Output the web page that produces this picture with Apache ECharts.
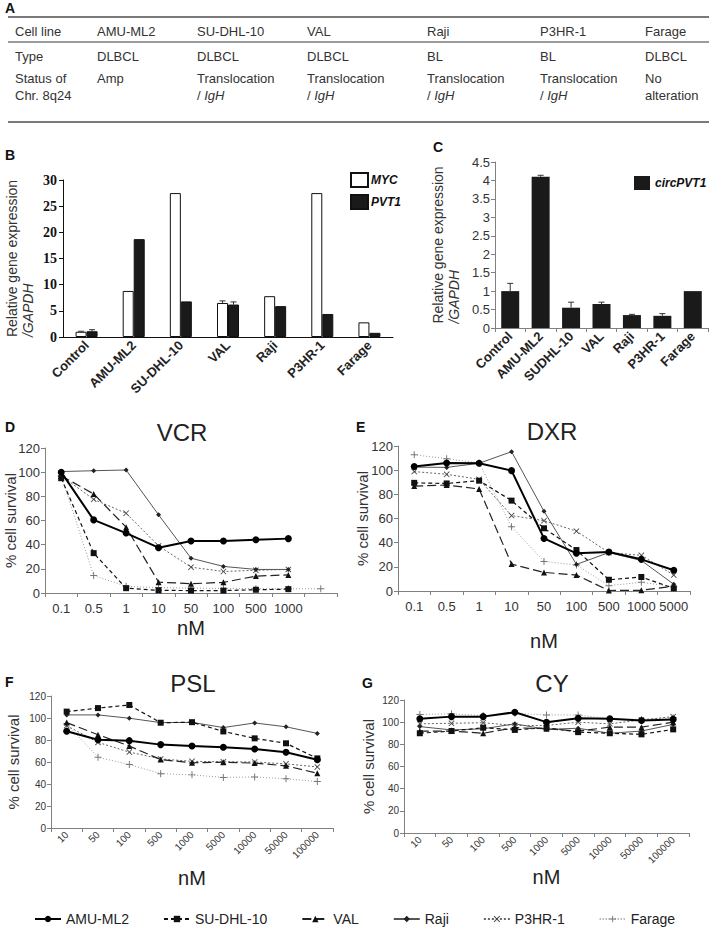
<!DOCTYPE html>
<html>
<head>
<meta charset="utf-8">
<script src="https://cdn.jsdelivr.net/npm/echarts@6/dist/echarts.min.js"></script>
<style>
  html, body { margin: 0; padding: 0; background: #fff; }
  #fig { width: 709px; height: 929px; }
</style>
</head>
<body>
<div id="fig"></div>
<script>
// ---- panel A: cell line table ----
var tableHead = ['Cell line', 'AMU-ML2', 'SU-DHL-10', 'VAL', 'Raji', 'P3HR-1', 'Farage'];
var tableType = ['Type', 'DLBCL', 'DLBCL', 'DLBCL', 'BL', 'BL', 'DLBCL'];
var tableStatus1 = ['Status of', 'Amp', 'Translocation', 'Translocation', 'Translocation', 'Translocation', 'No'];
var tableStatus2 = ['Chr. 8q24', '', '/ IgH', '/ IgH', '/ IgH', '/ IgH', 'alteration'];

// ---- panel B: MYC / PVT1 expression ----
var exprCats = ['Control', 'AMU-ML2', 'SU-DHL-10', 'VAL', 'Raji', 'P3HR-1', 'Farage'];
var mycExpr = [1.0, 8.8, 27.5, 6.5, 7.8, 27.5, 2.8];
var mycErr = [0.1, 0, 0, 0.4, 0, 0, 0];
var pvt1Expr = [1.1, 18.7, 6.8, 6.2, 5.9, 4.4, 0.8];
var pvt1Err = [0.3, 0, 0, 0.5, 0, 0, 0];

// ---- panel C: circPVT1 expression ----
var circCats = ['Control', 'AMU-ML2', 'SUDHL-10', 'VAL', 'Raji', 'P3HR-1', 'Farage'];
var circExpr = [1.0, 4.1, 0.55, 0.65, 0.35, 0.33, 1.0];
var circErr = [0.21, 0.04, 0.15, 0.05, 0.02, 0.06, 0];

// ---- panels D-G: % cell survival ----
var lineNames = ['AMU-ML2', 'SU-DHL-10', 'VAL', 'Raji', 'P3HR-1', 'Farage'];

var vcrDoses = ['0.1', '0.5', '1', '10', '50', '100', '500', '1000', ''];
var vcrAmu    = [100, 60.5, 49.6, 37.5, 43, 43, 44, 45];
var vcrSudhl  = [95, 33, 4, 2.2, 2, 2, 2.7, 3.2];
var vcrVal    = [97, 82, 54.5, 9, 7.7, 8.8, 14, 15];
var vcrRaji   = [100.5, 101.2, 101.8, 64.7, 28.8, 22, 19.5, 19.5];
var vcrP3hr   = [97, 77.5, 66, 39, 21.4, 17.8, 18.8, 19.5];
var vcrFarage = [97, 14.5, 5.5, 4.5, 4, 3.8, 3.6, 3.5, 3.5];

var dxrDoses = ['0.1', '0.5', '1', '10', '50', '100', '500', '1000', '5000'];
var dxrAmu    = [103, 106, 105.7, 99.6, 43.5, 31.2, 32.2, 26.2, 17.2];
var dxrSudhl  = [89.5, 89, 91.3, 74.8, 51.9, 33.9, 9.3, 11.6, 2.2];
var dxrVal    = [86.8, 87.7, 84.4, 22.3, 15.4, 13.2, 0.4, 0.6, 4];
var dxrRaji   = [102.5, 102.3, 105.7, 115.3, 66, 22, 31.8, 25.2, 5.6];
var dxrP3hr   = [98.8, 96.6, 92.4, 62.4, 58.2, 49.5, 31.8, 29.5, 13.2];
var dxrFarage = [112.7, 109.5, 106, 53.2, 24.5, 21.5, 4.4, 7.2, 3.6];

var pslDoses = ['10', '50', '100', '500', '1000', '5000', '10000', '50000', '100000'];
var pslAmu    = [88, 80.2, 79.4, 75.8, 74.5, 73.4, 71.8, 68.8, 62];
var pslSudhl  = [105.8, 109, 111.8, 95.7, 96.2, 87.8, 81.5, 77, 63.3];
var pslVal    = [95.8, 84.8, 74.5, 62.2, 59.3, 59.8, 59, 56.5, 49.8];
var pslRaji   = [102.8, 102.8, 99.8, 95.8, 96, 91.3, 95.5, 92, 86];
var pslP3hr   = [93, 77.8, 69, 62.8, 60.6, 60.2, 60, 58.3, 55.5];
var pslFarage = [94.6, 64.3, 57.7, 49.4, 48.3, 46, 46.4, 44.8, 42.2];

var cyDoses = ['10', '50', '100', '500', '1000', '5000', '10000', '50000', '100000'];
var cyAmu    = [103, 105, 105, 109, 100, 103.5, 103, 101.5, 102.5];
var cySudhl  = [90, 92, 95, 93, 95, 91, 90, 89, 93.5];
var cyVal    = [92, 92, 90, 95, 94, 92, 95.5, 95.5, 100];
var cyRaji   = [96, 93, 94, 98.5, 93.5, 94.5, 90, 92, 98];
var cyP3hr   = [98.5, 99, 99.5, 97, 97, 100, 98.5, 102, 105];
var cyFarage = [107, 107.5, 106, 108, 106.5, 106.5, 103, 102.5, 104];

// ---------------------------------------------------------------------
var FONT = 'Liberation Sans';
var chart = echarts.init(document.getElementById('fig'), null, { renderer: 'svg' });

// line look per cell line
var lineLooks = {
  'AMU-ML2':   { symbol: 'circle', size: 7, line: { color: '#000', width: 2 }, color: '#000', z: 8 },
  'SU-DHL-10': { symbol: 'rect', size: 6, line: { color: '#111', width: 1.2, type: [4, 3] }, color: '#111', z: 6 },
  'VAL':       { symbol: 'triangle', size: 6, line: { color: '#222', width: 1.2, type: [9, 4] }, color: '#111', z: 6 },
  'Raji':      { symbol: 'diamond', size: 5, line: { color: '#555', width: 1 }, color: '#222', z: 5 },
  'P3HR-1':    { symbol: 'path://M1,0L5,4L9,0L10,1L6,5L10,9L9,10L5,6L1,10L0,9L4,5L0,1Z', size: 6,
                 line: { color: '#666', width: 1, type: [2, 2] }, color: '#444', z: 4 },
  'Farage':    { symbol: 'path://M4.3,0H5.7V4.3H10V5.7H5.7V10H4.3V5.7H0V4.3H4.3Z', size: 7,
                 line: { color: '#9a9a9a', width: 1, type: [1, 2] }, color: '#777', z: 3 }
};

function lineSeries(name, data, idx) {
  var look = lineLooks[name];
  return {
    name: name, type: 'line', xAxisIndex: idx, yAxisIndex: idx, data: data,
    symbol: look.symbol, symbolSize: look.size, showSymbol: true,
    lineStyle: look.line, itemStyle: { color: look.color }, z: look.z,
    emphasis: { disabled: true }
  };
}

function errorSeries(idx, vals, errs, offset) {
  return {
    type: 'custom', xAxisIndex: idx, yAxisIndex: idx, silent: true, z: 5,
    data: vals.map(function (v, i) { return [i, v, v + errs[i]]; }),
    renderItem: function (params, api) {
      if (api.value(2) <= api.value(1)) return null;
      var base = api.coord([api.value(0), api.value(1)]);
      var top = api.coord([api.value(0), api.value(2)]);
      var x = base[0] + offset;
      return {
        type: 'group',
        children: [
          { type: 'line', shape: { x1: x, y1: base[1], x2: x, y2: top[1] }, style: { stroke: '#333', lineWidth: 1 } },
          { type: 'line', shape: { x1: x - 3, y1: top[1], x2: x + 3, y2: top[1] }, style: { stroke: '#333', lineWidth: 1 } }
        ]
      };
    }
  };
}

// grids: 0 B, 1 C, 2 D, 3 E, 4 F, 5 G
var grids = [
  { left: 63, top: 180, width: 330, height: 157 },
  { left: 495, top: 162, width: 213, height: 166 },
  { left: 45, top: 448, width: 292, height: 145 },
  { left: 398, top: 446, width: 292, height: 145 },
  { left: 51, top: 696, width: 282, height: 132 },
  { left: 404, top: 700, width: 285, height: 133 }
].map(function (g) { g.containLabel = false; g.outerBoundsMode = 'none'; return g; });

var greyAxis = { lineStyle: { color: '#808080', width: 1 } };

function survivalX(idx, doses, rotate, fontSize, nameGap) {
  return {
    type: 'category', gridIndex: idx, data: doses,
    axisLine: greyAxis, axisTick: { show: true, length: 4, lineStyle: { color: '#808080' } },
    axisLabel: { interval: 0, rotate: rotate, color: '#333', fontSize: fontSize, fontFamily: FONT, margin: rotate ? 5 : 9 },
    splitLine: { show: false },
    name: 'nM', nameLocation: 'middle', nameGap: nameGap, nameMoveOverlap: false,
    nameTextStyle: { fontSize: 20, color: '#222', fontFamily: FONT }
  };
}
function survivalY(idx, fontSize, nameGap) {
  return {
    type: 'value', gridIndex: idx, min: 0, max: 120, interval: 20,
    axisLine: { show: true, lineStyle: { color: '#808080' } },
    axisTick: { show: true, length: 4, lineStyle: { color: '#808080' } },
    axisLabel: { color: '#333', fontSize: fontSize, fontFamily: FONT, margin: 5 },
    splitLine: { show: false },
    name: '% cell survival', nameLocation: 'middle', nameGap: nameGap, nameMoveOverlap: false,
    nameTextStyle: { fontSize: 15, color: '#333', fontFamily: FONT }
  };
}

var exprName = '{t|Relative gene expression}\n{g|/GAPDH}';
var exprRich = {
  t: { fontSize: 14, color: '#333', fontFamily: FONT, lineHeight: 16, align: 'left' },
  g: { fontSize: 14, color: '#333', fontFamily: FONT, fontStyle: 'italic', lineHeight: 16, align: 'left' }
};

var xAxes = [
  {
    type: 'category', gridIndex: 0, data: exprCats,
    axisLine: { lineStyle: { color: '#111' } }, axisTick: { show: false },
    axisLabel: { interval: 0, rotate: 45, fontWeight: 'bold', fontSize: 13, color: '#222', fontFamily: FONT, margin: 6 }
  },
  {
    type: 'category', gridIndex: 1, data: circCats,
    axisLine: greyAxis, axisTick: { show: true, length: 4, lineStyle: { color: '#808080' } },
    axisLabel: { interval: 0, rotate: 45, fontWeight: 'bold', fontSize: 13, color: '#222', fontFamily: FONT, margin: 6 }
  },
  survivalX(2, vcrDoses, 0, 13, 25),
  survivalX(3, dxrDoses, 0, 13, 40),
  survivalX(4, pslDoses, 45, 10, 40),
  survivalX(5, cyDoses, 45, 10, 34)
];

var yAxes = [
  {
    type: 'value', gridIndex: 0, min: 0, max: 30, interval: 5,
    axisLine: { show: true, lineStyle: { color: '#111' } },
    axisTick: { show: true, length: 4, lineStyle: { color: '#111' } },
    axisLabel: { fontFamily: 'Liberation Serif', fontWeight: 'bold', fontSize: 14, color: '#111', margin: 6 },
    splitLine: { show: false },
    name: exprName, nameLocation: 'middle', nameGap: 27, nameMoveOverlap: false, nameTextStyle: { rich: exprRich }
  },
  {
    type: 'value', gridIndex: 1, min: 0, max: 4.5, interval: 0.5,
    axisLine: { show: true, lineStyle: { color: '#808080' } },
    axisTick: { show: true, length: 4, lineStyle: { color: '#808080' } },
    axisLabel: { fontFamily: FONT, fontSize: 13, color: '#333', margin: 5 },
    splitLine: { show: false },
    name: exprName, nameLocation: 'middle', nameGap: 33, nameMoveOverlap: false, nameTextStyle: { rich: exprRich }
  },
  survivalY(2, 13, 27),
  survivalY(3, 13, 28),
  survivalY(4, 10, 30),
  survivalY(5, 10, 28)
];

var series = [
  { name: 'MYC', type: 'bar', xAxisIndex: 0, yAxisIndex: 0, data: mycExpr, barWidth: 11, barGap: '0%',
    itemStyle: { color: '#fff', borderColor: '#111', borderWidth: 1 } },
  { name: 'PVT1', type: 'bar', xAxisIndex: 0, yAxisIndex: 0, data: pvt1Expr, barWidth: 11, barGap: '0%',
    itemStyle: { color: '#1a1a1a', borderColor: '#111', borderWidth: 1 } },
  errorSeries(0, mycExpr, mycErr, -5.5),
  errorSeries(0, pvt1Expr, pvt1Err, 5.5),
  { name: 'circPVT1', type: 'bar', xAxisIndex: 1, yAxisIndex: 1, data: circExpr, barWidth: 18,
    itemStyle: { color: '#1a1a1a' } },
  errorSeries(1, circExpr, circErr, 0)
];

var panels = [
  [vcrAmu, vcrSudhl, vcrVal, vcrRaji, vcrP3hr, vcrFarage],
  [dxrAmu, dxrSudhl, dxrVal, dxrRaji, dxrP3hr, dxrFarage],
  [pslAmu, pslSudhl, pslVal, pslRaji, pslP3hr, pslFarage],
  [cyAmu, cySudhl, cyVal, cyRaji, cyP3hr, cyFarage]
];
panels.forEach(function (sets, p) {
  sets.forEach(function (data, k) {
    series.push(lineSeries(lineNames[k], data, p + 2));
  });
});

// ---- graphic: table, panel letters, panel titles ----
var graphics = [];
function addText(x, y, text, style) {
  graphics.push({
    type: 'text', x: x, y: y, silent: true,
    style: echarts.util.extend({ text: text, fill: '#333', font: '13px "' + FONT + '"', align: 'left', verticalAlign: 'middle' }, style || {})
  });
}
function addRule(y, w) {
  graphics.push({ type: 'line', silent: true, shape: { x1: 8, y1: y, x2: 709, y2: y }, style: { stroke: '#7a7a7a', lineWidth: w } });
}

var colX = [15, 97, 197, 307, 427, 540, 645];
addRule(17, 2);
addRule(42, 1.5);
addRule(122, 2);
tableHead.forEach(function (t, i) { addText(colX[i], 31, t); });
tableType.forEach(function (t, i) { addText(colX[i], 56, t); });
tableStatus1.forEach(function (t, i) { addText(colX[i], 78, t); });
tableStatus2.forEach(function (t, i) {
  if (!t) return;
  if (t.indexOf('IgH') >= 0) {
    addText(colX[i], 95, t.replace('IgH', '{i|IgH}'), {
      rich: { i: { fontStyle: 'italic', fontSize: 13, fontFamily: FONT, fill: '#333' } }
    });
  } else {
    addText(colX[i], 95, t);
  }
});

var letterFont = 'bold 14px "' + FONT + '"';
addText(5, 8, 'A', { font: letterFont, fill: '#111' });
addText(5, 155, 'B', { font: letterFont, fill: '#111' });
addText(433, 147, 'C', { font: letterFont, fill: '#111' });
addText(5, 427, 'D', { font: letterFont, fill: '#111' });
addText(356, 427, 'E', { font: letterFont, fill: '#111' });
addText(5, 682, 'F', { font: letterFont, fill: '#111' });
addText(362, 683, 'G', { font: letterFont, fill: '#111' });

var titleFont = '24px "' + FONT + '"';
addText(182, 432, 'VCR', { font: titleFont, fill: '#222', align: 'center' });
addText(552, 431, 'DXR', { font: titleFont, fill: '#222', align: 'center' });
addText(193, 683, 'PSL', { font: titleFont, fill: '#222', align: 'center' });
addText(552, 683, 'CY', { font: titleFont, fill: '#222', align: 'center' });

chart.setOption({
  animation: false,
  backgroundColor: '#fff',
  textStyle: { fontFamily: FONT },
  grid: grids,
  xAxis: xAxes,
  yAxis: yAxes,
  legend: [
    {
      data: ['MYC', 'PVT1'], orient: 'vertical', left: 345, top: 167,
      icon: 'rect', itemWidth: 17, itemHeight: 14, itemGap: 6, selectedMode: false,
      textStyle: { fontWeight: 'bold', fontStyle: 'italic', fontSize: 12, color: '#111', fontFamily: FONT, padding: [0, 0, 0, -2] }
    },
    {
      data: ['circPVT1'], orient: 'vertical', left: 629, top: 171,
      icon: 'rect', itemWidth: 16, itemHeight: 14, selectedMode: false,
      textStyle: { fontWeight: 'bold', fontStyle: 'italic', fontSize: 12, color: '#111', fontFamily: FONT }
    },
    {
      data: lineNames, orient: 'horizontal', left: 'center', top: 907,
      itemWidth: 26, itemHeight: 8, itemGap: 34, selectedMode: false,
      textStyle: { fontSize: 14, color: '#222', fontFamily: FONT }
    }
  ],
  series: series,
  graphic: graphics
});
</script>
</body>
</html>
